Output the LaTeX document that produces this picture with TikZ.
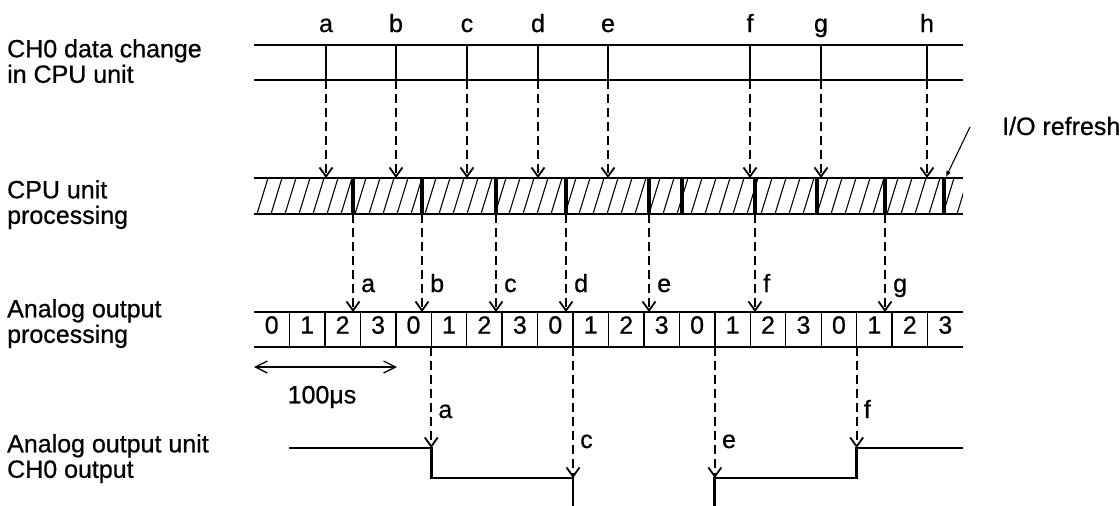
\documentclass[tikz,border=0pt]{standalone}
\usepackage{fontspec}
\setmainfont[FakeBold=0.7]{Liberation Sans}
\usetikzlibrary{arrows.meta}

\begin{document}
\begin{tikzpicture}[x=1pt, y=-1pt, font=\fontsize{25}{25.5}\selectfont,
  >={Straight Barb[length=9pt,width=13pt]},
  lab/.style = {anchor=north west, align=left, inner sep=0pt},
  ev/.style = {anchor=base, inner sep=0pt},
  tag/.style = {anchor=base west, inner sep=0pt},
  rail/.style = {line width=1.4pt},
  tick/.style = {line width=2.6pt},
  ioref/.style = {line width=4pt},
  hatch/.style = {line width=1.1pt},
  flow/.style = {->, line width=1.8pt, dash pattern=on 9pt off 5pt},
  sig/.style = {line width=2.8pt},
  span/.style = {{Straight Barb[length=12pt,width=12pt]}-{Straight Barb[length=12pt,width=12pt]}, line width=1.3pt}]
  \useasboundingbox (0,0) rectangle (1120,506);
  % row titles
  \node[lab] (r0) at (7,39) {CH0 data change\\in CPU unit};
  \node[lab] (r1) at (7,180) {CPU unit\\processing};
  \node[lab] (r2) at (7,299) {Analog output\\processing};
  \node[lab] (r3) at (7,434) {Analog output unit\\CH0 output};
  % data change in CPU unit
  \draw[rail] (254,45) -- (963,45) (254,80) -- (963,80);
  \foreach \x/\lt in {326/a,396/b,467/c,538/d,608/e,750/f,821/g,927/h} {
    \node[ev] (e\lt) at (\x,32) {\lt};
    \coordinate (d\lt) at (\x,80);
    \coordinate (p\lt) at (\x,178);
    \draw[tick] (\x,45) -- (d\lt);
    \draw[flow] (d\lt) -- (p\lt);
  }
  % CPU unit processing
  \begin{scope}
    \clip (254,178) rectangle (963,214);
    \foreach \i in {0,...,52}
      \draw[hatch] (243+14*\i,214) -- (254+14*\i,178);
  \end{scope}
  \draw[rail] (254,178) -- (963,178) (254,214) -- (963,214);
  \foreach \x in {353,422,496,566,649,682,755,817,885,944}
    \draw[ioref] (\x,178) -- (\x,214);
  \foreach \x/\lt in {353/a,422/b,496/c,566/d,649/e,755/f,885/g} {
    \coordinate (c\lt) at (\x,214);
    \coordinate (q\lt) at (\x,312);
    \draw[flow] (c\lt) -- (q\lt);
    \node[tag] (k\lt) at (\x+8,292) {\lt};
  }
  % analog output processing
  \draw[rail] (254,312) -- (963,312) (254,347) -- (963,347);
  \foreach \i in {0,...,19} {
    \pgfmathtruncatemacro\k{mod(\i,4)}
    \node[inner sep=0pt] (n\i) at (254+35.45*\i+17.7,325) {\k};
    \ifnum\i>0 \draw[rail] (254+35.45*\i,312) -- (254+35.45*\i,347); \fi
  }
  \coordinate (w0) at (254,367);
  \coordinate (w1) at (397,367);
  \draw[span] (w0) -- (w1);
  \node (cyc) at (322,397) {100μs};
  % analog output unit CH0 output
  \foreach \x/\y/\lt in {431.25/448/a,573.05/478/c,714.85/478/e,856.65/448/f} {
    \coordinate (b\lt) at (\x,347);
    \coordinate (o\lt) at (\x,\y);
    \draw[flow] (b\lt) -- (o\lt);
    \node[tag] (m\lt) at (\x+7,\y-30) {\lt};
  }
  \draw[sig] (289,448) -- (oa) -- (431.25,478) -- (oc) -- (573.05,506);
  \draw[sig] (714.85,506) -- (oe) -- (856.65,478) -- (of) -- (963,448);
  % I/O refresh note
  \node[anchor=west, inner sep=0pt] (io) at (1002,126) {I/O refresh};
  \coordinate (iofoot) at (970,127);
  \coordinate (iotip) at (946,177);
  \draw[-{Latex[length=6pt,width=5pt]}, line width=1.1pt] (iofoot) -- (iotip);
\end{tikzpicture}
\end{document}
